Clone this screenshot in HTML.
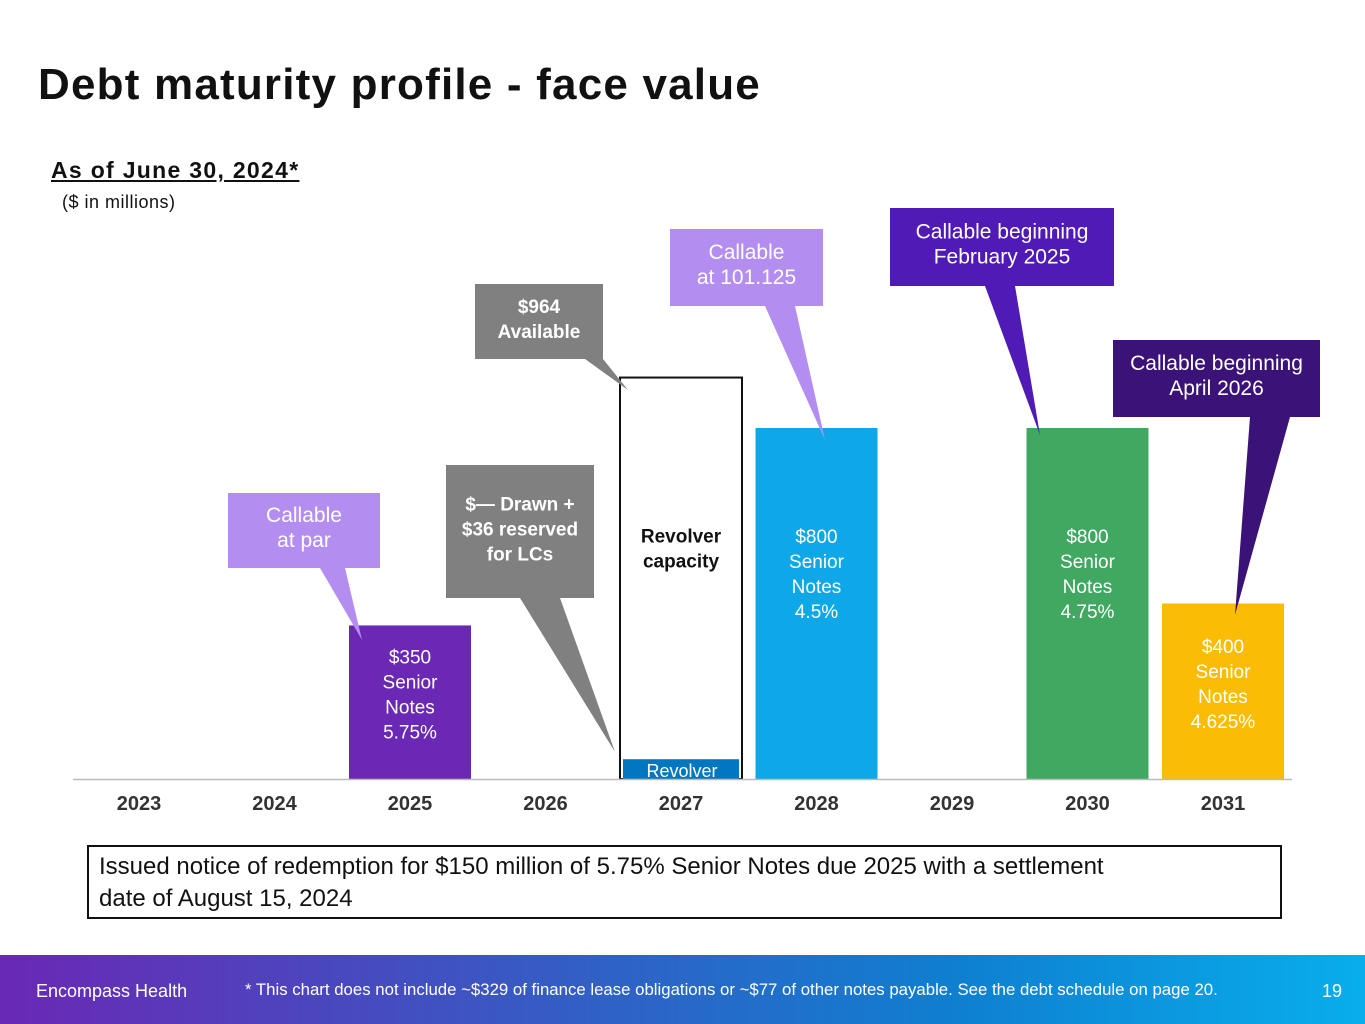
<!DOCTYPE html>
<html><head><meta charset="utf-8"><style>
body{margin:0;width:1365px;height:1024px;position:relative;background:#fff;font-family:"Liberation Sans","DejaVu Sans",sans-serif;overflow:hidden}
#title{position:absolute;left:38px;top:60px;font-size:44px;font-weight:bold;color:#111;margin:0;letter-spacing:1.2px}
#asof{position:absolute;left:51px;top:157px;font-size:23px;font-weight:bold;text-decoration:underline;color:#111;letter-spacing:1.3px}
#units{position:absolute;left:62px;top:192px;font-size:18px;color:#111;letter-spacing:0.5px}
#note{position:absolute;left:87px;top:845px;width:1171px;height:62px;border:2px solid #111;padding:4px 10px;font-size:24px;line-height:32px;color:#111;box-sizing:content-box}
#footer{position:absolute;left:0;top:955px;width:1365px;height:69px;background:linear-gradient(90deg,#6a28b5,#2f62c5 45%,#0f7fd0 70%,#08aeec)}
#footer span{position:absolute;color:#fff;top:26px}
</style></head><body>
<h1 id="title">Debt maturity profile - face value</h1>
<div id="asof">As of June 30, 2024*</div>
<div id="units">($ in millions)</div>
<svg id="chart" width="1365" height="840" style="position:absolute;left:0;top:0" font-family="Liberation Sans, DejaVu Sans, sans-serif"></svg>
<div id="note">Issued notice of redemption for $150 million of 5.75% Senior Notes due 2025 with a settlement<br>date of August 15, 2024</div>
<div id="footer">
<span style="left:36px;font-size:18px">Encompass Health</span>
<span style="left:245px;font-size:16.8px;top:25px">* This chart does not include ~$329 of finance lease obligations or ~$77 of other notes payable. See the debt schedule on page 20.</span>
<span style="left:1322px;font-size:18px">19</span>
</div>
<script>
const years=["2023","2024","2025","2026","2027","2028","2029","2030","2031"];
const noteValues=[0,0,350,0,0,800,0,800,400];
const noteLabels=["","","$350\nSenior\nNotes\n5.75%","","","$800\nSenior\nNotes\n4.5%","","$800\nSenior\nNotes\n4.75%","$400\nSenior\nNotes\n4.625%"];
const noteColors=["","","#6a28b5","","","#0ea8e8","","#41a862","#fbbc05"];
const revolverCapacity=[0,0,0,0,915,0,0,0,0];
const revolverDrawn=[0,0,0,0,36,0,0,0,0];
const svg=document.getElementById('chart');
const NS='http://www.w3.org/2000/svg';
const base=779,k=351/800;
const x=i=>139+i*135.5;
const y=v=>base-v*k;
function mk(t,a,p){const e=document.createElementNS(NS,t);for(const n in a)e.setAttribute(n,a[n]);(p||svg).appendChild(e);return e;}
function txt(s,cx,cy,o){const lines=s.split("\n");const lh=o.lh||25;const y0=cy-(lines.length-1)*lh/2;lines.forEach((l,j)=>{const t=mk('text',{x:cx,y:y0+j*lh+7,'text-anchor':'middle','font-size':o.fs||20,fill:o.fill||'#fff','font-weight':o.fw||'normal'});t.textContent=l;});}
const bw=122;
years.forEach((yr,i)=>{
 if(noteValues[i]>0){const r=mk('rect',{x:x(i)-bw/2,y:y(noteValues[i]),width:bw,height:noteValues[i]*k,fill:noteColors[i]});
  
  
  const top=y(noteValues[i]),h=noteValues[i]*k;
  txt(noteLabels[i],x(i),h<200?top+h/2-8:top+h/2-30,{fs:19});}
 if(revolverCapacity[i]>0){const r=mk('rect',{x:x(i)-bw/2,y:y(revolverCapacity[i]),width:bw,height:revolverCapacity[i]*k,fill:'#fff',stroke:'#111','stroke-width':2});
  
  
  const d=mk('rect',{x:x(i)-bw/2+3,y:y(revolverDrawn[i])-4,width:bw-6,height:revolverDrawn[i]*k+4,fill:'#0077c0'});
  
  
  txt("Revolver",x(i)+1,y(revolverDrawn[i])+7,{fs:18,name:'revolver-label'});
  txt("Revolver\ncapacity",x(i),548,{fs:19,fill:'#111',fw:'bold',name:'revolver-capacity-label'});}
 txt(yr,x(i),803,{fs:20,fill:'#333',fw:'bold',name:'x-tick-'+yr});
});
const ax=mk('line',{x1:73,x2:1292,y1:779.5,y2:779.5,stroke:'#bbb','stroke-width':1.5});


const callouts=[
 {n:'callout-callable-at-par',r:[228,493,380,568],p:[320,345,362,640],c:'#b38ef0',t:"Callable\nat par",fw:'normal'},
 {n:'callout-drawn',r:[446,465,594,598],p:[520,560,615,752],c:'#808080',t:"$— Drawn +\n$36 reserved\nfor LCs",fw:'bold'},
 {n:'callout-available',r:[475,284,603,359],p:[585,603,628,390],c:'#808080',t:"$964\nAvailable",fw:'bold'},
 {n:'callout-callable-101',r:[670,229,823,306],p:[765,795,825,440],c:'#b38ef0',t:"Callable\nat 101.125",fw:'normal'},
 {n:'callout-feb-2025',r:[890,208,1114,286],p:[985,1015,1040,435],c:'#4f1ab5',t:"Callable beginning\nFebruary 2025",fw:'normal'},
 {n:'callout-apr-2026',r:[1113,340,1320,417],p:[1250,1290,1235,615],c:'#3a1278',t:"Callable beginning\nApril 2026",fw:'normal'}];
callouts.forEach(c=>{const [x1,y1,x2,y2]=c.r;const [a,b,tx,ty]=c.p;
 const g=mk('polygon',{points:`${x1},${y1} ${x2},${y1} ${x2},${y2} ${b},${y2} ${tx},${ty} ${a},${y2} ${x1},${y2}`,fill:c.c});
 
 
 txt(c.t,(x1+x2)/2,(y1+y2)/2-3,{fs:c.fw==='bold'?19:21,fw:c.fw,name:c.n+'-text'});});
</script>
</body></html>
